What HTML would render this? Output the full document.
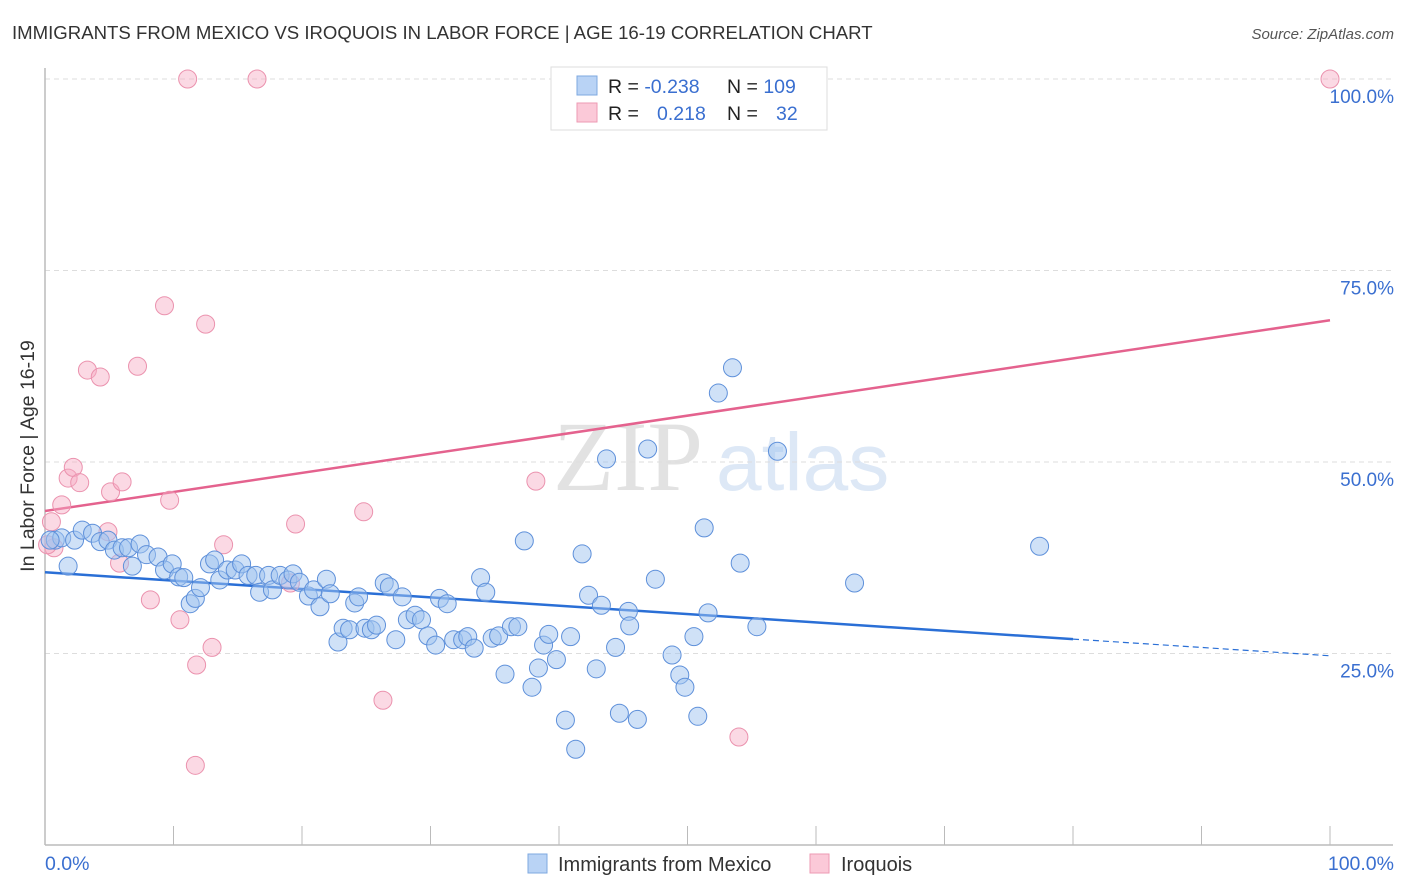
<!DOCTYPE html>
<html><head><meta charset="utf-8"><style>
body{margin:0;background:#fff;width:1406px;height:892px;overflow:hidden;font-family:"Liberation Sans",sans-serif;}
svg{display:block}
</style></head><body>
<svg id="chart" width="1406" height="892" xmlns="http://www.w3.org/2000/svg">
<text x="12" y="39" font-size="18.6" fill="#333" font-family="Liberation Sans, sans-serif">IMMIGRANTS FROM MEXICO VS IROQUOIS IN LABOR FORCE | AGE 16-19 CORRELATION CHART</text>
<text x="1394" y="39" font-size="15" fill="#555" font-style="italic" text-anchor="end">Source: ZipAtlas.com</text>
<g>
<text x="553" y="490" font-size="100" fill="#e2e2e2" font-family="Liberation Serif, serif">ZIP</text>
<text x="716" y="490" font-size="82" fill="#dde8f6" font-family="Liberation Sans, sans-serif">atlas</text>
</g>
<g id="grid"></g>
<g id="axes"></g>
<g id="trend"></g>
<g id="points"></g>
<text transform="translate(34,456) rotate(-90)" font-size="19.5" fill="#333" text-anchor="middle">In Labor Force | Age 16-19</text>
<g>
<rect x="551" y="67" width="276" height="63" fill="#fff" stroke="#ddd"/>
<rect x="577" y="76" width="20" height="19" fill="#b9d3f5" stroke="#7ea8e0"/>
<rect x="577" y="103" width="20" height="19" fill="#fbc9d8" stroke="#ee9ab3"/>
<text x="608" y="93" font-size="19.5" fill="#222">R = <tspan fill="#3a6fd0">-0.238</tspan><tspan x="727">N = </tspan><tspan fill="#3a6fd0">109</tspan></text>
<text x="608" y="120" font-size="19.5" fill="#222">R = <tspan x="657" fill="#3a6fd0">0.218</tspan><tspan x="727">N = </tspan><tspan x="776" fill="#3a6fd0">32</tspan></text>
</g>
<g>
<rect x="528" y="854" width="19" height="19" fill="#b9d3f5" stroke="#7ea8e0"/>
<text x="558" y="871" font-size="20" fill="#333">Immigrants from Mexico</text>
<rect x="810" y="854" width="19" height="19" fill="#fbc9d8" stroke="#ee9ab3"/>
<text x="841" y="871" font-size="20" fill="#333">Iroquois</text>
</g>
</svg>
<script>
const blueX=[0.8,1.3,1.8,2.3,2.9,3.7,4.3,4.9,5.4,6.0,6.5,6.8,7.4,7.9,8.8,9.3,9.9,10.4,10.8,11.3,11.7,12.1,12.8,13.2,13.6,14.2,14.8,15.3,15.8,16.4,16.7,17.4,17.7,18.3,18.9,19.3,19.8,20.5,20.9,21.4,21.9,22.2,22.8,23.2,23.7,24.1,24.4,24.9,25.4,25.8,26.4,26.8,27.3,27.8,28.2,28.8,29.3,29.8,30.4,30.7,31.3,31.8,32.5,32.9,33.4,33.9,34.3,34.8,35.3,35.8,36.3,36.8,37.3,37.9,38.4,38.8,39.2,39.8,40.5,40.9,41.3,41.8,42.3,42.9,43.3,43.7,44.4,44.7,45.4,45.5,46.1,46.9,47.5,48.8,49.4,49.8,50.5,50.8,51.3,51.6,52.4,53.5,54.1,55.4,57.0,63.0,77.4,0.4];
const blueY=[39.8,40.1,36.4,39.8,41.1,40.7,39.6,39.8,38.5,38.8,38.8,36.4,39.3,37.9,37.6,35.9,36.7,35.0,34.9,31.5,32.2,33.6,36.7,37.2,34.6,35.9,35.9,36.7,35.2,35.2,33.0,35.2,33.3,35.2,34.6,35.4,34.3,32.5,33.3,31.1,34.7,32.8,26.5,28.3,28.1,31.6,32.4,28.3,28.1,28.7,34.2,33.7,26.8,32.4,29.4,30.0,29.4,27.3,26.1,32.2,31.5,26.8,26.8,27.2,25.7,34.9,33.0,27.0,27.3,22.3,28.5,28.5,39.7,20.6,23.1,26.1,27.5,24.2,16.3,27.2,12.5,38.0,32.6,23.0,31.3,50.4,25.8,17.2,30.5,28.6,16.4,51.7,34.7,24.8,22.2,20.6,27.2,16.8,41.4,30.3,59.0,62.3,36.8,28.5,51.4,34.2,39.0,39.8];
const pinkX=[0.5,0.7,1.3,1.8,2.2,2.7,3.3,4.3,5.1,4.9,5.8,6.0,7.2,8.2,9.3,9.7,10.5,11.1,11.8,11.7,12.5,13.0,13.9,16.5,19.1,19.5,24.8,26.3,38.2,54.0,100,0.2];
const pinkY=[42.2,38.8,44.4,47.9,49.3,47.3,62.0,61.1,46.1,40.9,36.8,47.4,62.5,32.0,70.4,45.0,29.4,100,23.5,10.4,68.0,25.8,39.2,100,34.2,41.9,43.5,18.9,47.5,14.1,100,39.2];
const blueTrend=[35.6,24.7];
const blueSolidEnd=80;
const pinkTrend=[43.6,68.5];
const yTicks=[25,50,75,100];
const yTickLabels=["25.0%","50.0%","75.0%","100.0%"];
const xTicks=[0,10,20,30,40,50,60,70,80,90,100];
const xTickLabels=["0.0%","100.0%"];

const NS="http://www.w3.org/2000/svg";
const X0=45,X1=1330,Y0=845,Y100=79;
const sx=v=>X0+(X1-X0)*v/100;
const sy=v=>Y0-(Y0-Y100)*v/100;
function mk(tag,attrs,parent){const e=document.createElementNS(NS,tag);for(const k in attrs)e.setAttribute(k,attrs[k]);parent.appendChild(e);return e;}
const grid=document.getElementById('grid'),axes=document.getElementById('axes'),trend=document.getElementById('trend'),pts=document.getElementById('points');
yTicks.forEach((t,i)=>{
  const l=mk('line',{x1:X0,x2:1393,y1:sy(t),y2:sy(t),stroke:'#ddd','stroke-dasharray':'5,4'},grid);
  
  
  const tx=mk('text',{x:1394,y:sy(t)+24,'font-size':19,fill:'#3a6fd0','text-anchor':'end'},grid);
  tx.textContent=yTickLabels[i];
  
  
});
const ax=mk('line',{x1:X0,x2:1393,y1:Y0,y2:Y0,stroke:'#bbb','stroke-width':1.5},axes);


const ay=mk('line',{x1:X0,x2:X0,y1:68,y2:Y0,stroke:'#bbb','stroke-width':1.5},axes);


xTicks.forEach(t=>{
  const l=mk('line',{x1:sx(t),x2:sx(t),y1:826,y2:Y0,stroke:'#bbb'},axes);
  
  
});
[[0,'start',X0],[100,'end',1394]].forEach((d,i)=>{
  const tx=mk('text',{x:d[2],y:870,'font-size':19.5,fill:'#3a6fd0','text-anchor':d[1]},axes);
  tx.textContent=xTickLabels[i];
  
  
});
function circ(x,y,fill,stroke,name){
  const c=mk('circle',{cx:sx(x),cy:sy(y),r:9,fill:fill,stroke:stroke,'stroke-width':1},pts);
  
  
}
pinkX.forEach((x,i)=>circ(x,pinkY[i],'rgba(246,170,195,0.45)','#eb92ae','iroquois-point'));
blueX.forEach((x,i)=>circ(x,blueY[i],'rgba(160,195,240,0.5)','#5e90da','mexico-point'));
const bv=x=>blueTrend[0]+(blueTrend[1]-blueTrend[0])*x/100;
const pv=x=>pinkTrend[0]+(pinkTrend[1]-pinkTrend[0])*x/100;
const b1=mk('line',{x1:sx(0),y1:sy(bv(0)),x2:sx(blueSolidEnd),y2:sy(bv(blueSolidEnd)),stroke:'#2a6fd6','stroke-width':2.5},trend);


const b2=mk('line',{x1:sx(blueSolidEnd),y1:sy(bv(blueSolidEnd)),x2:sx(100),y2:sy(bv(100)),stroke:'#2a6fd6','stroke-width':1.2,'stroke-dasharray':'6,4'},trend);


const p1=mk('line',{x1:sx(0),y1:sy(pv(0)),x2:sx(100),y2:sy(pv(100)),stroke:'#e4628e','stroke-width':2.5},trend);


</script>
</body></html>
